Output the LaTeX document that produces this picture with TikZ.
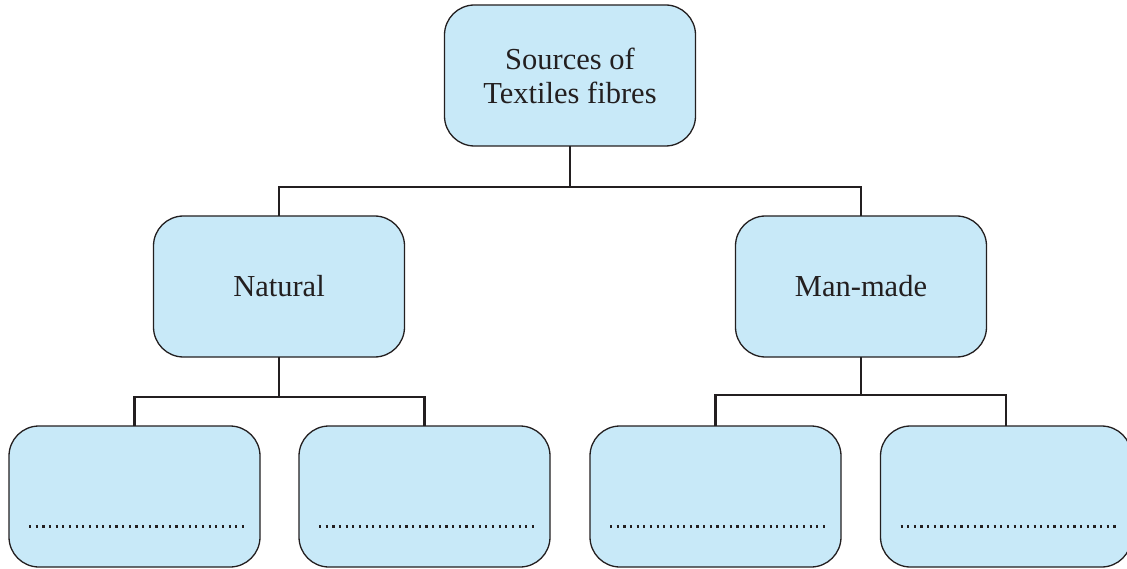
\documentclass[tikz,border=0pt]{standalone}
\usepackage{fontspec}
\setmainfont{Liberation Serif}
\definecolor{boxfill}{HTML}{C8E9F8}
\definecolor{ink}{HTML}{231F20}
\begin{document}
\begin{tikzpicture}[x=1pt,y=-1pt,
  fbox/.style={draw=ink, fill=boxfill, line width=1.3pt, rounded corners=30pt,
    minimum width=251pt, minimum height=141pt, outer sep=0pt, inner sep=0pt,
    text=ink, font=\fontsize{30.5}{34}\selectfont, align=center},
  conn/.style={draw=ink, line width=2.8pt},
  dots/.style={draw=ink, line width=2.2pt, dash pattern=on 2.2pt off 4.45pt}]
\useasboundingbox (0,0) rectangle (1127,569);
\node[fbox] (src) at (570,75.5) {Sources of\\Textiles fibres};
\node[fbox] (nat) at (279,286.5) {Natural};
\node[fbox] (man) at (861,286.5) {Man-made};
\node[fbox] (b1) at (134.5,496.5) {};
\node[fbox] (b2) at (424.5,496.5) {};
\node[fbox] (b3) at (715.5,496.5) {};
\node[fbox] (b4) at (1006,496.5) {};
% connectors
\coordinate (j0) at (570,187);
\coordinate (j1) at (279,397);
\coordinate (j2) at (861,395);
\draw[conn] (src.south) -- (j0);
\draw[conn] (nat.north) |- (j0) -| (man.north);
\draw[conn] (nat.south) -- (j1);
\draw[conn] (b1.north) |- (j1) -| (b2.north);
\draw[conn] (man.south) -- (j2);
\draw[conn] (b3.north) |- (j2) -| (b4.north);
% dotted answer lines
\foreach \b in {b1,b2,b3,b4}{
  \draw[dots] ([xshift=20pt,yshift=-30pt]\b.west) -- ([xshift=237pt,yshift=-30pt]\b.west);
}
\end{tikzpicture}
\end{document}
